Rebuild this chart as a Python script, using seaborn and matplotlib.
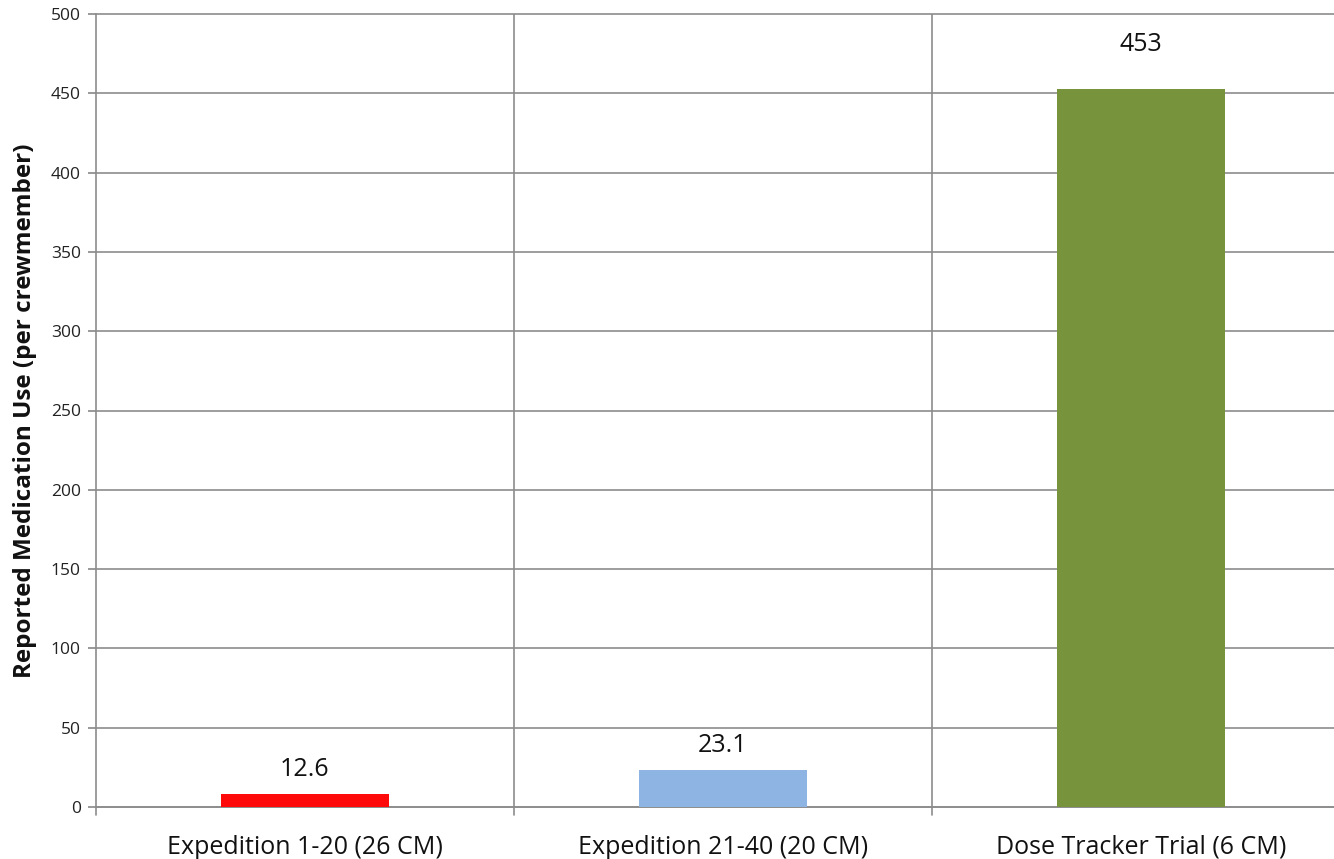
import matplotlib
matplotlib.use("Agg")
import matplotlib.pyplot as plt
import seaborn as sns
import pandas as pd

categories = ["Expedition 1-20 (26 CM)", "Expedition 21-40 (20 CM)", "Dose Tracker Trial (6 CM)"]
bar_heights = [8.0, 23.1, 453]          # heights as drawn in the picture
value_labels = ["12.6", "23.1", "453"]   # printed labels
colors = ["#FF0A0A", "#8DB4E2", "#77933C"]
yticks = [0, 50, 100, 150, 200, 250, 300, 350, 400, 450, 500]

sns.set_theme(style="white")
plt.rcParams["font.family"] = ["Open Sans", "DejaVu Sans"]

df = pd.DataFrame({"cat": categories, "val": bar_heights})

fig = plt.figure(figsize=(13.34, 8.59), dpi=100)
ax = fig.add_axes([96 / 1334, 1 - 807 / 859, 1 - 96 / 1334, (807 - 14) / 859])

sns.barplot(data=df, x="cat", y="val", hue="cat", palette=colors, legend=False,
            width=0.4, saturation=1, linewidth=0, ax=ax, zorder=3)

ax.set_ylim(0, 500)
ax.set_xlim(-0.5, -0.5 + (1334 - 96) / 418)
ax.set_yticks(yticks)
ax.set_yticklabels([str(v) for v in yticks], fontsize=12.5, color="#222222")

grid_c = "#8C8C8C"
for y in yticks:
    ax.axhline(y, color=grid_c, lw=1.2, zorder=1, clip_on=False)
for xb in [0.5, 1.5]:
    ax.axvline(xb, color=grid_c, lw=1.2, zorder=1)
    ax.plot([xb, xb], [0, -5], color=grid_c, lw=1.2, clip_on=False, zorder=1)
ax.plot([-0.5, -0.5], [0, -5], color=grid_c, lw=1.2, clip_on=False, zorder=1)

for s in ["top", "right"]:
    ax.spines[s].set_visible(False)
ax.spines["left"].set_color(grid_c)
ax.spines["left"].set_linewidth(1.2)
ax.spines["bottom"].set_color(grid_c)
ax.spines["bottom"].set_linewidth(1.2)

ax.tick_params(axis="y", which="major", length=6, color=grid_c, left=True, pad=5)
ax.tick_params(axis="x", length=0, pad=20)
ax.set_xticks(range(len(categories)))
ax.set_xticklabels(categories, fontsize=18, color="#111111")

offsets = [18, 18, 32]
for i, (h, lab) in enumerate(zip(bar_heights, value_labels)):
    ax.annotate(lab, xy=(i, h), xytext=(0, offsets[i]), textcoords="offset points",
                ha="center", va="center", fontsize=18, color="#111111")

ax.set_xlabel("")
ax.set_ylabel("Reported Medication Use (per crewmember)", fontsize=17.5,
              fontweight="bold", color="#111111", labelpad=10)

fig.savefig("out.png", dpi=100)
